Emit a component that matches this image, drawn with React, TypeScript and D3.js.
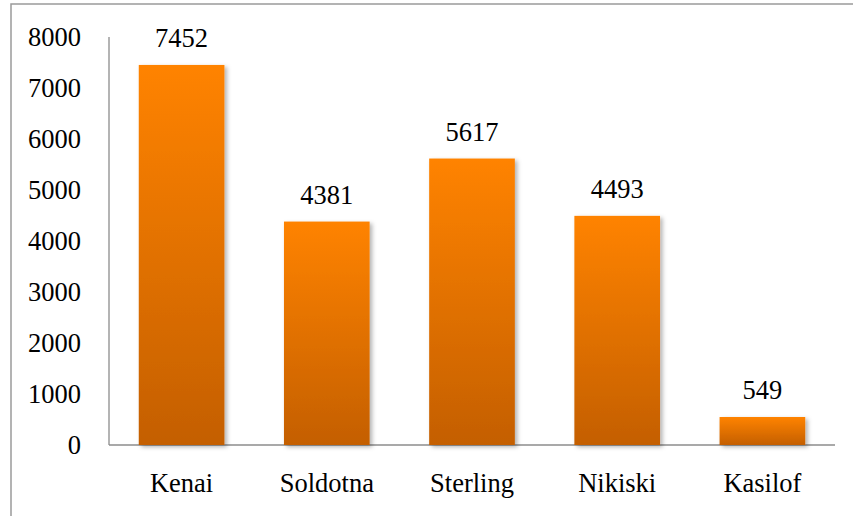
import React from 'react';
import * as d3 from 'd3';

const WIDTH = 853;
const HEIGHT = 516;

const towns = ['Kenai', 'Soldotna', 'Sterling', 'Nikiski', 'Kasilof'];
const population = [7452, 4381, 5617, 4493, 549];
const yTicks = [0, 1000, 2000, 3000, 4000, 5000, 6000, 7000, 8000];

const textStyle: React.CSSProperties = {
    fontFamily: "'Liberation Serif', 'DejaVu Serif', serif",
    fontSize: '26.5px',
};

const App = () => {
    const x = d3
        .scaleBand<string>()
        .domain(towns)
        .range([109, 835])
        .paddingInner(0.41)
        .paddingOuter(0.205);
    const y = d3.scaleLinear().domain([0, 8000]).range([445, 37]);

    return (
        <svg
            width={WIDTH}
            height={HEIGHT}
            style={{ position: 'absolute', left: 0, top: 0, background: '#fff' }}
        >
            <defs>
                <linearGradient id='barGrad' x1='0' y1='0' x2='0' y2='1'>
                    <stop offset='0%' stopColor='#ff8300' />
                    <stop offset='100%' stopColor='#c45f00' />
                </linearGradient>
                <filter id='shadow' x='-20%' y='-20%' width='150%' height='150%'>
                    <feDropShadow
                        dx={2.5}
                        dy={2}
                        stdDeviation={2}
                        floodColor='#000'
                        floodOpacity={0.3}
                    />
                </filter>
            </defs>

            {/* outer frame, right/bottom edges fall outside the picture */}
            <rect
                x={11}
                y={4}
                width={WIDTH + 20}
                height={HEIGHT + 20}
                fill='none'
                stroke='#9a9a9a'
                strokeWidth={1.5}
            />

            {/* axes */}
            <line x1={109} x2={109} y1={y(8000)} y2={y(0)} stroke='#8c8c8c' strokeWidth={1.3} />
            <line x1={109} x2={835} y1={y(0)} y2={y(0)} stroke='#8c8c8c' strokeWidth={1.3} />

            {yTicks.map(t => (
                <text
                    key={t}
                    x={81}
                    y={y(t)}
                    dy='0.33em'
                    textAnchor='end'
                    style={textStyle}
                    fill='#000'
                >
                    {t}
                </text>
            ))}

            {towns.map((name, i) => {
                const v = population[i];
                const bx = x(name) ?? 0;
                const bw = x.bandwidth();
                return (
                    <g key={name}>
                        <rect
                            x={bx}
                            y={y(v)}
                            width={bw}
                            height={y(0) - y(v)}
                            fill='url(#barGrad)'
                            filter='url(#shadow)'
                        />
                        <text
                            x={bx + bw / 2}
                            y={y(v) - 18}
                            textAnchor='middle'
                            style={textStyle}
                            fill='#000'
                        >
                            {v}
                        </text>
                        <text
                            x={bx + bw / 2}
                            y={492}
                            textAnchor='middle'
                            style={textStyle}
                            fill='#000'
                        >
                            {name}
                        </text>
                    </g>
                );
            })}
        </svg>
    );
};

export default App;
